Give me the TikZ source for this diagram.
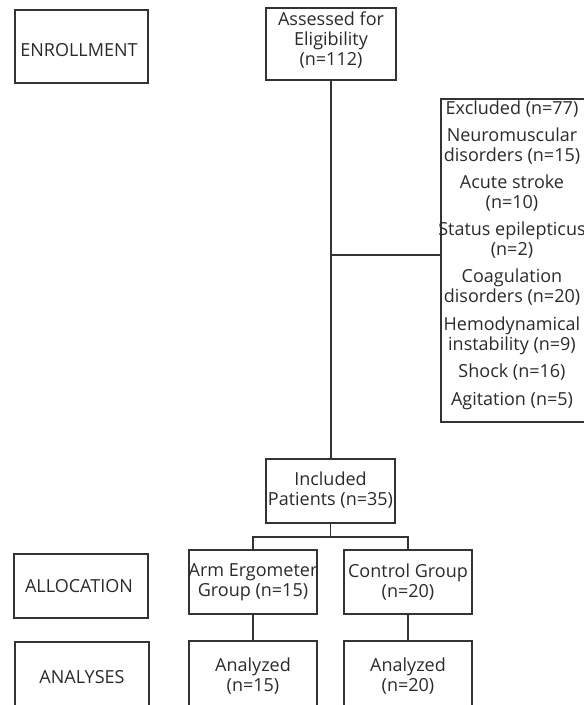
\documentclass[tikz,border=0pt]{standalone}
\usepackage{fontspec}
\setmainfont{Open Sans}
\begin{document}
\begin{tikzpicture}[x=1pt,y=-1pt,
  box/.style={draw=linec,line width=1.4pt,inner sep=0pt,fill=none},
  txt/.style={text=textc,align=center,inner sep=0pt,font=\fontsize{18}{20}\selectfont},
  conn/.style={draw=linec,line width=1.4pt}]
\definecolor{linec}{HTML}{333333}
\definecolor{textc}{HTML}{2A2A2A}
\useasboundingbox (0,0) rectangle (584,705);
\clip (0,0) rectangle (584,705);
% left stage boxes
\node[box,minimum width=133pt,minimum height=73pt] (enr) at (81.5,46.5) {};
\node[txt] (enrt) at (79,50) {ENROLLMENT};
\node[box,minimum width=134pt,minimum height=64pt] (alloc) at (81,586) {};
\node[txt] (alloct) at (79,586) {ALLOCATION};
\node[box,minimum width=134pt,minimum height=70pt] (anal) at (82,677) {};
\node[txt] (analt) at (82,677) {ANALYSES};
% flow boxes
\node[box,minimum width=130pt,minimum height=72pt] (ass) at (331,44) {};
\node[txt] (asst) at (331,40) {Assessed for\\Eligibility\\(n=112)};
\node[box,minimum width=144pt,minimum height=323pt] (exc) at (513,260.5) {};
\node[txt] (exct) at (512,255.5) {Excluded (n=77)\\[7pt]Neuromuscular\\disorders (n=15)\\[7pt]Acute stroke\\(n=10)\\[7pt]Status epilepticus\\(n=2)\\[7pt]Coagulation\\disorders (n=20)\\[8pt]Hemodynamical\\instability (n=9)\\[7pt]Shock (n=16)\\[8pt]Agitation (n=5)};
\node[box,minimum width=129pt,minimum height=64pt] (inc) at (330.5,491) {};
\node[txt] (inct) at (330.5,490) {Included\\Patients (n=35)};
\node[box,minimum width=128pt,minimum height=64pt] (arm) at (253,582) {};
\node[txt] (armt) at (253,582) {Arm Ergometer\\Group (n=15)};
\node[box,minimum width=128pt,minimum height=64pt] (ctl) at (408,582) {};
\node[txt] (ctlt) at (408,582) {Control Group\\(n=20)};
\node[box,minimum width=128pt,minimum height=70pt] (an1) at (253,676) {};
\node[txt] (an1t) at (253,676) {Analyzed\\(n=15)};
\node[box,minimum width=128pt,minimum height=70pt] (an2) at (408,676) {};
\node[txt] (an2t) at (408,676) {Analyzed\\(n=20)};
% connectors
\coordinate (jx) at (331,255);
\coordinate (split) at (330.5,537);
\draw[conn] (ass.south -| jx) -- (inc.north -| jx);
\draw[conn] (jx) -- (exc.west |- jx);
\draw[conn] (inc.south) -- (split);
\draw[conn] (arm.north) |- (split) -| (ctl.north);
\draw[conn] (arm.south) -- (an1.north);
\draw[conn] (ctl.south) -- (an2.north);
\end{tikzpicture}
\end{document}
